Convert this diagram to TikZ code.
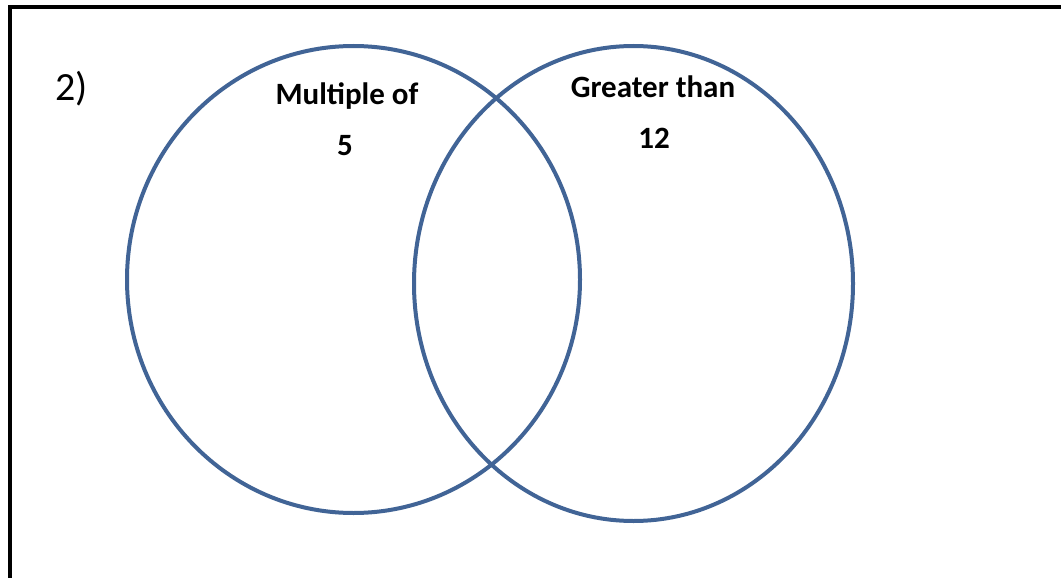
\documentclass[tikz,border=0pt]{standalone}
\usepackage{fontspec}
\setmainfont{Carlito}
\definecolor{vennblue}{RGB}{65,100,150}
\begin{document}
\begin{tikzpicture}[x=1pt,y=-1pt,
  venn/.style={draw=vennblue,line width=4pt},
  frameline/.style={draw=black,line width=4pt},
  lbl/.style={font=\fontsize{31}{34}\selectfont\bfseries,anchor=base,inner sep=0pt}]
\clip (0,0) rectangle (1061,578);
\fill[white] (0,0) rectangle (1061,578);
\draw[frameline] (10,620) -- (10,7) -- (1100,7);
\node[font=\fontsize{40}{44}\selectfont,anchor=base west,inner sep=0pt] (num) at (55,100) {2)};
\draw[venn] (353.5,279.5) ellipse [x radius=226.5, y radius=233.5];
\draw[venn] (633.5,283.5) ellipse [x radius=219.5, y radius=237.5];
\node[lbl] (m1) at (347,105) {Multiple of};
\node[lbl] (m2) at (345,155) {5};
\node[lbl] (g1) at (653,97) {Greater than};
\node[lbl] (g2) at (654,148) {12};
\end{tikzpicture}
\end{document}
